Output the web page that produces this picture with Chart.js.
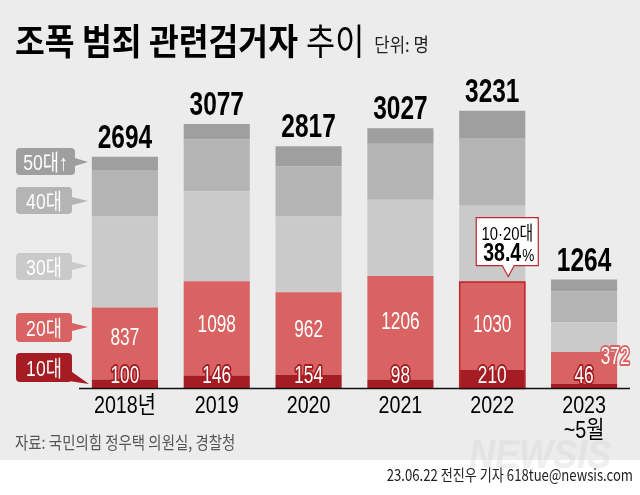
<!DOCTYPE html>
<html>
<head>
<meta charset="utf-8">
<script src="https://cdn.jsdelivr.net/npm/chart.js@4.4.0/dist/chart.umd.min.js"></script>
<style>
  html, body { margin: 0; padding: 0; background: #ececec; }
  #wrap { width: 640px; height: 495px; }
</style>
</head>
<body>
<div id="wrap"><canvas id="chart" width="640" height="495"></canvas></div>
<script>
// data (단위: 명)
const categories = ['2018년', '2019', '2020', '2021', '2022', ['2023', '~5월']];
const teens     = [100, 146, 154, 98, 210, 46];
const twenties  = [837, 1098, 962, 1206, 1030, 372];
const thirties  = [1062, 1047, 883, 890, 884, 349];
const forties   = [533, 603, 583, 653, 790, 357];
const fiftiesUp = [162, 183, 235, 180, 317, 140];
const totals    = [2694, 3077, 2817, 3027, 3231, 1264];
const ageLabels = ['10대', '20대', '30대', '40대', '50대↑'];
const highlightIdx = 4;
const highlightText = ['10·20대', '38.4', '%'];

const colors = ['#a51d23', '#d96262', '#c9cac9', '#b4b4b4', '#9f9f9f'];
const NUMF = "'Liberation Sans', 'Noto Sans CJK KR', sans-serif";
const KRF = "'Noto Sans CJK KR', sans-serif";

function txt(ctx, s, x, y, o) {
  ctx.save();
  ctx.font = (o.weight || 'normal') + ' ' + o.size + 'px ' + (o.family || NUMF);
  ctx.textAlign = o.align || 'center';
  ctx.textBaseline = 'alphabetic';
  ctx.translate(x, y);
  ctx.scale(o.sx || 1, 1);
  if (o.stroke) {
    ctx.lineJoin = 'round';
    ctx.lineWidth = o.lw || 3;
    ctx.strokeStyle = o.stroke;
    ctx.strokeText(s, 0, 0);
  }
  ctx.fillStyle = o.color || '#000';
  ctx.fillText(s, 0, 0);
  const w = ctx.measureText(s).width * (o.sx || 1);
  ctx.restore();
  return w;
}

function tag(ctx, label, x, y, w, h, color, tip) {
  ctx.save();
  ctx.fillStyle = color;
  ctx.beginPath();
  ctx.roundRect(x, y, w, h, 4);
  ctx.fill();
  ctx.beginPath();
  ctx.moveTo(tip[0][0], tip[0][1]);
  ctx.lineTo(tip[1][0], tip[1][1]);
  ctx.lineTo(tip[2][0], tip[2][1]);
  ctx.closePath();
  ctx.fill();
  ctx.restore();
  txt(ctx, label, x + w / 2, y + h / 2 + 8, { size: 22, sx: 0.8, color: '#fff' });
}

const deco = {
  id: 'deco',
  beforeDraw(chart) {
    const ctx = chart.ctx;
    ctx.save();
    ctx.fillStyle = '#ececec';
    ctx.fillRect(0, 0, 640, 460);
    ctx.fillStyle = '#ffffff';
    ctx.fillRect(0, 460, 640, 35);
    ctx.restore();

    // title
    let w = txt(ctx, '조폭 범죄 관련검거자', 15, 55, { size: 36, weight: 'bold', family: KRF, sx: 0.9, align: 'left' });
    let w2 = txt(ctx, '추이', 15 + w + 8, 55, { size: 36, family: KRF, sx: 0.88, align: 'left' });
    txt(ctx, '단위: 명', 15 + w + 8 + w2 + 10, 52, { size: 19, family: KRF, sx: 0.88, align: 'left', color: '#222' });

    // source & credit
    txt(ctx, '자료: 국민의힘 정우택 의원실, 경찰청', 15, 449, { size: 17, family: KRF, sx: 0.85, align: 'left', color: '#555' });
    txt(ctx, 'NEWSIS', 540, 468, { size: 40, weight: 'bold italic', sx: 0.9, color: 'rgba(215,215,215,0.4)' });
    txt(ctx, '23.06.22 전진우 기자 618tue@newsis.com', 633, 481, { size: 16, family: KRF, sx: 0.82, align: 'right', color: '#222' });
  },
  afterDatasetsDraw(chart) {
    const ctx = chart.ctx;
    const area = chart.chartArea;
    const m10 = chart.getDatasetMeta(0).data;
    const m20 = chart.getDatasetMeta(1).data;
    const mTop = chart.getDatasetMeta(4).data;
    const base = m10[0].base;

    // highlight outline of 10·20대 in 2022
    const hb = m20[highlightIdx];
    ctx.save();
    ctx.strokeStyle = '#c0272d';
    ctx.lineWidth = 1.5;
    ctx.strokeRect(hb.x - hb.width / 2 + 0.5, hb.y + 0.5, hb.width - 1, base - hb.y);
    ctx.restore();

    // axis line
    ctx.save();
    ctx.strokeStyle = '#111';
    ctx.lineWidth = 1.5;
    ctx.beginPath();
    ctx.moveTo(area.left, base + 0.5);
    ctx.lineTo(area.right, base + 0.5);
    ctx.stroke();
    ctx.restore();

    categories.forEach((c, i) => {
      const x = m10[i].x;
      // total above bar
      txt(ctx, String(totals[i]), x, mTop[i].y - 9, { size: 34, weight: 'bold', sx: 0.72 });
      // 20대 value
      if (i === categories.length - 1) {
        txt(ctx, String(twenties[i]), x + 31, 364, { size: 23, sx: 0.75, color: '#fff', stroke: '#d96262', lw: 4 });
      } else {
        const cy = (m20[i].y + base - 22) / 2;
        txt(ctx, String(twenties[i]), x, cy + 8, { size: 23, sx: 0.75, color: '#fff' });
      }
      // 10대 value
      txt(ctx, String(teens[i]), x, base - 5, { size: 23, sx: 0.75, color: '#fff', stroke: colors[0], lw: 4 });
      // category
      const lines = Array.isArray(c) ? c : [c];
      lines.forEach((l, k) => {
        txt(ctx, l, x, 413 + k * 25, { size: 24, sx: 0.82 });
      });
    });

    // callout for 2022
    const tipX = hb.x + 16, tipY = hb.y - 5;
    const bx = tipX - 32, by = tipY - 59, bw = 62, bh = 48;
    ctx.save();
    ctx.fillStyle = '#fff';
    ctx.strokeStyle = '#c0272d';
    ctx.lineWidth = 1.2;
    ctx.beginPath();
    ctx.moveTo(bx, by);
    ctx.lineTo(bx + bw, by);
    ctx.lineTo(bx + bw, by + bh);
    ctx.lineTo(tipX + 6, by + bh);
    ctx.lineTo(tipX, tipY);
    ctx.lineTo(tipX - 6, by + bh);
    ctx.lineTo(bx, by + bh);
    ctx.closePath();
    ctx.fill();
    ctx.stroke();
    ctx.restore();
    txt(ctx, highlightText[0], bx + bw / 2, by + 22, { size: 19, sx: 0.78 });
    const pw = txt(ctx, highlightText[1], bx + 7, by + 43, { size: 26, weight: 'bold', sx: 0.75, align: 'left' });
    txt(ctx, highlightText[2], bx + 7 + pw + 1, by + 43, { size: 17, sx: 0.8, align: 'left' });

    // age tags on the left
    tag(ctx, ageLabels[4], 16, 148, 59, 27, colors[4], [[75, 158], [75, 166], [88, 162]]);
    tag(ctx, ageLabels[3], 16, 187, 56, 27, colors[3], [[72, 197], [72, 205], [88, 201]]);
    tag(ctx, ageLabels[2], 16, 253, 56, 27, colors[2], [[72, 262], [72, 270], [88, 266]]);
    tag(ctx, ageLabels[1], 16, 313, 56, 29, colors[1], [[72, 323], [72, 331], [88, 327]]);
    tag(ctx, ageLabels[0], 16, 353, 56, 29, colors[0], [[62, 380], [72, 372], [89, 384]]);
  }
};

new Chart(document.getElementById('chart'), {
  type: 'bar',
  data: {
    labels: categories,
    datasets: [
      { label: ageLabels[0], data: teens, backgroundColor: colors[0] },
      { label: ageLabels[1], data: twenties, backgroundColor: colors[1] },
      { label: ageLabels[2], data: thirties, backgroundColor: colors[2] },
      { label: ageLabels[3], data: forties, backgroundColor: colors[3] },
      { label: ageLabels[4], data: fiftiesUp, backgroundColor: colors[4] }
    ]
  },
  options: {
    responsive: false,
    animation: false,
    layout: { padding: { left: 79, right: 10, top: 79, bottom: 107 } },
    datasets: { bar: { categoryPercentage: 1, barPercentage: 0.72, borderWidth: 0 } },
    plugins: { legend: { display: false }, tooltip: { enabled: false } },
    scales: {
      x: { stacked: true, display: false },
      y: { stacked: true, display: false, min: 0, max: 3600 }
    }
  },
  plugins: [deco]
});
</script>
</body>
</html>
